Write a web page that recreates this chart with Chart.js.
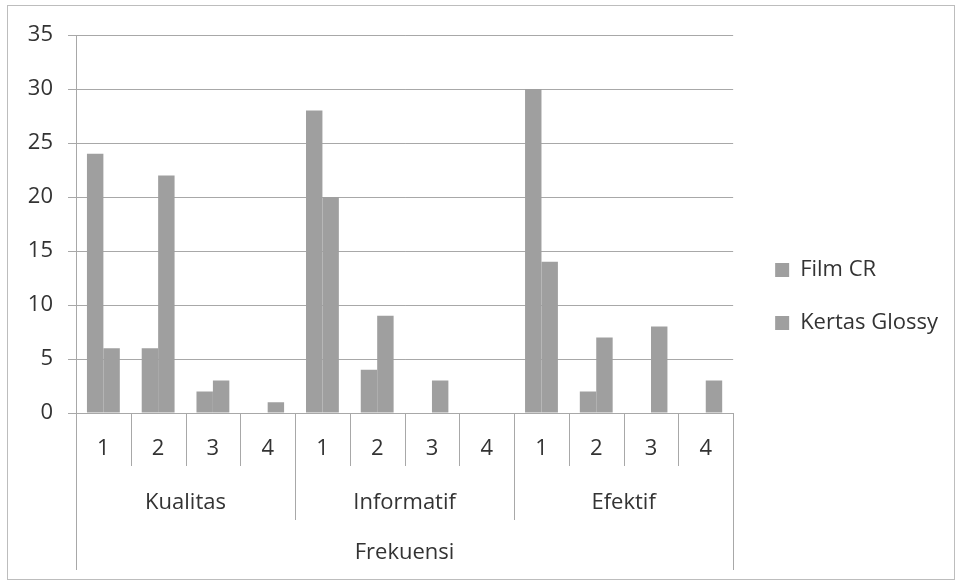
<!DOCTYPE html>
<html>
<head>
<meta charset="utf-8">
<script src="https://cdn.jsdelivr.net/npm/chart.js@4"></script>
<style>
  html, body { margin: 0; padding: 0; background: #fff; }
  #wrap { width: 957px; height: 582px; }
</style>
</head>
<body>
<div id="wrap"><canvas id="chart1"></canvas></div>
<script>
// data
var categories = ["1", "2", "3", "4", "1", "2", "3", "4", "1", "2", "3", "4"];
var groups = ["Kualitas", "Informatif", "Efektif"];
var axisTitle = "Frekuensi";
var filmCR = [24, 6, 2, 0, 28, 4, 0, 0, 30, 2, 0, 0];
var kertasGlossy = [6, 22, 3, 1, 20, 9, 3, 0, 14, 7, 8, 3];
var seriesNames = ["Film CR", "Kertas Glossy"];
var yMin = 0, yMax = 35, yStep = 5;

var FONT = "'Open Sans', sans-serif";
var TEXT = "#333333";
var LINE = "#a8a8a8";

// draws the outer frame, the category dividers and the group labels
var groupAxis = {
  id: "groupAxis",
  afterLayout: function (chart) {
    // nudge the legend a little right and up
    var lg = chart.legend;
    lg.left += 11; lg.right += 11;
    lg.top -= 12; lg.bottom -= 12;
  },
  beforeDraw: function (chart) {
    var ctx = chart.ctx;
    ctx.save();
    ctx.strokeStyle = "#bdbdbd";
    ctx.lineWidth = 1;
    ctx.strokeRect(7.5, 5.5, 947, 574);
    ctx.restore();
  },
  afterDraw: function (chart) {
    var ctx = chart.ctx;
    var x = chart.scales.x;
    var area = chart.chartArea;
    var step = x.getPixelForValue(1) - x.getPixelForValue(0);
    var start = x.getPixelForValue(0) - step / 2;
    ctx.save();
    ctx.strokeStyle = LINE;
    ctx.lineWidth = 1;
    for (var k = 0; k <= categories.length; k++) {
      var px = Math.round(start + k * step) + 0.5;
      var len = 53;
      if (k % 4 === 0) len = 107;
      if (k === 0 || k === categories.length) len = 157;
      ctx.beginPath();
      ctx.moveTo(px, area.bottom);
      ctx.lineTo(px, area.bottom + len);
      ctx.stroke();
    }
    ctx.fillStyle = TEXT;
    ctx.font = "22px " + FONT;
    ctx.textAlign = "center";
    ctx.textBaseline = "middle";
    for (var g = 0; g < groups.length; g++) {
      ctx.fillText(groups[g], start + (g * 4 + 2) * step, area.bottom + 90);
    }
    ctx.fillText(axisTitle, (area.left + area.right) / 2, area.bottom + 140);
    ctx.restore();
  }
};

new Chart(document.getElementById("chart1"), {
  type: "bar",
  data: {
    labels: categories,
    datasets: [
      {
        label: seriesNames[0],
        data: filmCR,
        backgroundColor: "#9f9f9f",
        barPercentage: 1,
        categoryPercentage: 0.6
      },
      {
        label: seriesNames[1],
        data: kertasGlossy,
        backgroundColor: "#9f9f9f",
        barPercentage: 1,
        categoryPercentage: 0.6
      }
    ]
  },
  options: {
    responsive: true,
    maintainAspectRatio: false,
    animation: false,
    layout: { padding: { top: 35, left: 0, right: 20, bottom: 0 } },
    plugins: {
      tooltip: { enabled: false },
      legend: {
        position: "right",
        labels: {
          boxWidth: 14,
          boxHeight: 14,
          padding: 31,
          color: TEXT,
          font: { family: FONT, size: 22 }
        }
      }
    },
    scales: {
      x: {
        grid: { display: false, drawTicks: false },
        border: { display: false },
        ticks: { color: TEXT, padding: 23, font: { family: FONT, size: 22 } },
        afterFit: function (scale) { scale.height = 169; }
      },
      y: {
        min: yMin,
        max: yMax,
        ticks: { stepSize: yStep, color: TEXT, padding: 15, font: { family: FONT, size: 22 } },
        grid: { color: LINE, tickLength: 8 },
        border: { color: LINE },
        afterFit: function (scale) { scale.width = 76; }
      }
    }
  },
  plugins: [groupAxis]
});
</script>
</body>
</html>
